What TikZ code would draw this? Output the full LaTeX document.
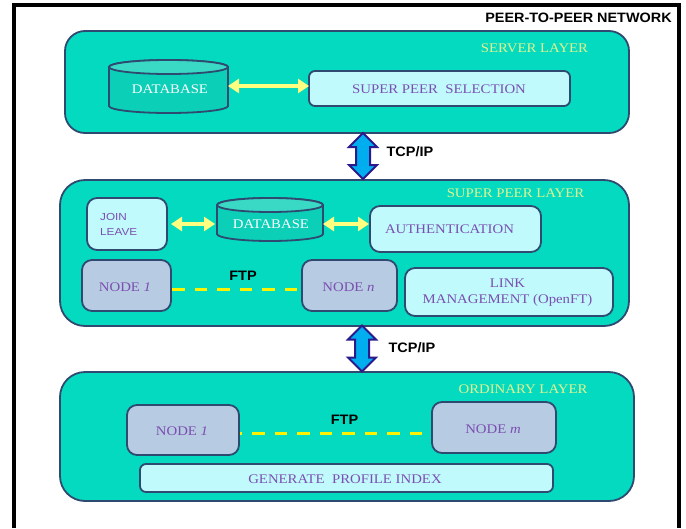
\documentclass[tikz,border=0pt]{standalone}
\usepackage{fontspec}
\usetikzlibrary{arrows.meta}
\setmainfont{Liberation Serif}
\newfontfamily\layfont[FakeStretch=1.12]{Liberation Serif}
\newfontfamily\joinfont[FakeStretch=1.15]{Liberation Sans}
\newfontfamily\headfont[FakeStretch=1.06]{Liberation Sans}
\definecolor{edgeblue}{HTML}{2F4A70}
\definecolor{layerfill}{HTML}{04DAC0}
\definecolor{lightbox}{HTML}{C0FAFD}
\definecolor{nodebox}{HTML}{B7CBE2}
\definecolor{dbbody}{HTML}{0CCFB8}
\definecolor{dbtop}{HTML}{3AD9C5}
\definecolor{txtpurple}{HTML}{7B4FB0}
\definecolor{layertxt}{HTML}{E2F58E}
\definecolor{arrowyellow}{HTML}{FFFF80}
\definecolor{tcpfill}{HTML}{00AEEF}
\definecolor{tcpedge}{HTML}{2A1A8C}
\tikzset{
  x=1pt,y=-1pt,
  basebox/.style={rectangle,draw=edgeblue,line width=1.8pt,inner sep=0pt,outer sep=0pt},
  layerbox/.style={basebox,fill=layerfill,rounded corners=#1},
  lightnode/.style={basebox,fill=lightbox,rounded corners=#1},
  greynode/.style={basebox,fill=nodebox,rounded corners=10pt},
  boxtext/.style={font=\layfont\fontsize{13.2}{15}\selectfont,text=txtpurple,inner sep=0pt},
  layertext/.style={font=\layfont\fontsize{13.2}{15}\selectfont,text=layertxt,inner sep=0pt},
  dbtext/.style={font=\layfont\fontsize{13.2}{15}\selectfont,text=white,inner sep=0pt},
  boldtext/.style={font=\headfont\bfseries\fontsize{13.7}{16}\selectfont,text=black,inner sep=0pt},
  linkarrow/.style={draw=arrowyellow,line width=3.2pt,{Triangle[width=14pt,length=11pt]}-{Triangle[width=14pt,length=11pt]}},
  ftpline/.style={draw=yellow,line width=3pt,dash pattern=on 12.7pt off 9.8pt},
  tcpslot/.style={rectangle,inner sep=0pt,outer sep=0pt,minimum width=28pt,minimum height=46pt},
  tcpshape/.style={draw=tcpedge,fill=tcpfill,line width=2pt,line join=miter},
  dbanchor/.style={rectangle,inner sep=0pt,outer sep=0pt}
}
% name, style, x1, y1, x2, y2
\newcommand{\placebox}[6]{%
  \pgfmathsetmacro{\bw}{#5-#3}\pgfmathsetmacro{\bh}{#6-#4}%
  \pgfmathsetmacro{\bx}{(#3+#5)/2}\pgfmathsetmacro{\by}{(#4+#6)/2}%
  \node[#2,minimum width=\bw pt,minimum height=\bh pt] (#1) at (\bx,\by) {};}
% name, x1, y1, x2, y2 (cylinder seen from above)
\newcommand{\placedb}[5]{%
  \pgfmathsetmacro{\bw}{#4-#2}\pgfmathsetmacro{\bh}{#5-#3}%
  \pgfmathsetmacro{\bx}{(#2+#4)/2}\pgfmathsetmacro{\by}{(#3+#5)/2}%
  \pgfmathsetmacro{\rx}{(#4-#2)/2}%
  \draw[edgeblue,line width=1.8pt,fill=dbbody] (#2,#3+7) -- (#2,#5-7)
     arc[start angle=180,end angle=360,x radius=\rx pt,y radius=7pt]
     -- (#4,#3+7) arc[start angle=0,end angle=180,x radius=\rx pt,y radius=7pt] -- cycle;
  \draw[edgeblue,line width=1.8pt,fill=dbtop] (\bx,#3+7) ellipse[x radius=\rx pt,y radius=7pt];
  \node[dbanchor,minimum width=\bw pt,minimum height=\bh pt] (#1) at (\bx,\by) {};}
% name, centre x, centre y
\newcommand{\placetcp}[3]{%
  \node[tcpslot] (#1) at (#2,#3) {};
  \draw[tcpshape] (#1.north) -- ++(14,14) -- ++(-7,0) -- ++(0,18) -- ++(7,0) -- (#1.south)
     -- ++(-14,-14) -- ++(7,0) -- ++(0,-18) -- ++(-7,0) -- cycle;}
\begin{document}
\begin{tikzpicture}
\useasboundingbox (0,0) rectangle (686,528);
\fill[white] (0,0) rectangle (686,528);
\draw[black,line width=4pt] (14,528) -- (14,5) -- (679,5) -- (679,528);
\node[boldtext,font=\headfont\bfseries\fontsize{13.6}{16}\selectfont] (title) at (578.5,18) {PEER-TO-PEER NETWORK};

% server layer
\placebox{serverlayer}{layerbox=20pt}{65}{31}{629}{133}
\node[layertext] (servertitle) at (534.5,48) {SERVER LAYER};
\placedb{dbone}{109}{60}{228}{113}
\node[dbtext] (dbonetext) at (170,89) {DATABASE};
\placebox{selection}{lightnode=6pt}{309}{71}{570}{106}
\node[boxtext] (selectiontext) at (439,89) {SUPER PEER\ \ SELECTION};
\coordinate (dboneout) at (228,86);
\coordinate (selin) at (309,86);
\draw[linkarrow] (dboneout) -- (selin);

% super peer layer
\placebox{superlayer}{layerbox=25pt}{60}{180}{629}{326}
\node[layertext] (supertitle) at (515.5,193) {SUPER PEER LAYER};
\placebox{joinbox}{lightnode=10pt}{87}{198}{167}{250}
\node[font=\joinfont\fontsize{10.2}{15}\selectfont,text=txtpurple,align=left,anchor=west,inner sep=0pt] (jointext) at (100,224.5) {JOIN\\LEAVE};
\placedb{dbtwo}{217}{198}{323}{241}
\node[dbtext] (dbtwotext) at (271,224) {DATABASE};
\placebox{auth}{lightnode=10pt}{370}{206}{541}{252}
\node[boxtext] (authtext) at (449.5,229) {AUTHENTICATION};
\coordinate (joinout) at (171,224);
\coordinate (dbtwoin) at (215,224);
\coordinate (dbtwoout) at (323,224);
\coordinate (authin) at (369,224);
\draw[linkarrow] (joinout) -- (dbtwoin);
\draw[linkarrow] (dbtwoout) -- (authin);
\placebox{nodeone}{greynode}{82}{260}{171}{311}
\node[boxtext] (nodeonetext) at (125,287) {NODE \textit{1}};
\placebox{noden}{greynode}{302}{260}{397}{311}
\node[boxtext] (nodentext) at (348.5,287) {NODE \textit{n}};
\placebox{linkbox}{lightnode=10pt}{405}{268}{613}{316}
\node[boxtext,align=center,font=\layfont\fontsize{13.2}{16.5}\selectfont] (linktext) at (507.5,292.5) {LINK\\MANAGEMENT (OpenFT)};
\coordinate (nodeoneout) at (172,289);
\coordinate (nodenin) at (301,289);
\draw[ftpline] (nodeoneout) -- (nodenin);
\node[boldtext] (ftpa) at (243,276) {FTP};

% ordinary layer
\placebox{ordlayer}{layerbox=25pt}{60}{372}{634}{501}
\node[layertext] (ordtitle) at (523,389) {ORDINARY LAYER};
\placebox{ordone}{greynode}{127}{405}{239}{455}
\node[boxtext] (ordonetext) at (182,431) {NODE \textit{1}};
\placebox{ordm}{greynode}{432}{402}{556}{453}
\node[boxtext] (ordmtext) at (493,429) {NODE \textit{m}};
\placebox{profile}{lightnode=6pt}{140}{464}{553}{492}
\node[boxtext] (profiletext) at (345,479) {GENERATE\ \ PROFILE INDEX};
\coordinate (ordoneout) at (240,433);
\coordinate (ordmin) at (431,433);
\draw[ftpline,dash phase=10.5pt] (ordoneout) -- (ordmin);
\node[boldtext] (ftpb) at (344.5,420) {FTP};

% TCP/IP connectors
\placetcp{tcpone}{363}{156}
\node[boldtext] (tcponetext) at (410,152) {TCP/IP};
\placetcp{tcptwo}{362}{348.5}
\node[boldtext] (tcptwotext) at (412,348) {TCP/IP};
\end{tikzpicture}
\end{document}
